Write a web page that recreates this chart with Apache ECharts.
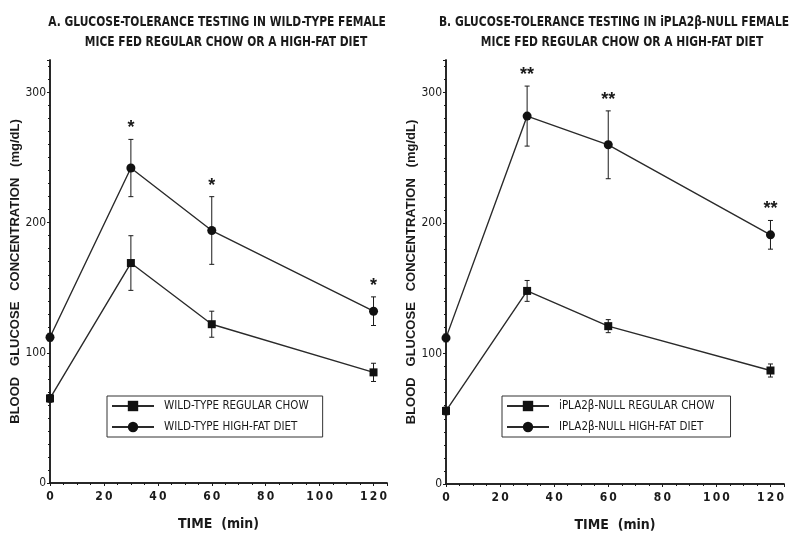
<!DOCTYPE html>
<html>
<head>
<meta charset="utf-8">
<script src="https://cdn.jsdelivr.net/npm/echarts@6/dist/echarts.min.js"></script>
<style>html,body{margin:0;padding:0;background:#fff}#c{width:800px;height:541px}</style>
</head>
<body>
<div id="c"></div>
<script>
// ---- data ----
const timeMin = [0, 30, 60, 120];
const wtChow = [65, 169, 122, 85];
const wtChowErr = [3, 21, 10, 7];
const wtFat = [112, 242, 194, 132];
const wtFatErr = [3, 22, 26, 11];
const wtSig = ['', '*', '*', '*'];
const koChow = [56, 148, 121, 87];
const koChowErr = [3, 8, 5, 5];
const koFat = [112, 282, 260, 191];
const koFatErr = [3, 23, 26, 11];
const koSig = ['', '**', '**', '**'];
const names = ['WILD-TYPE REGULAR CHOW', 'WILD-TYPE HIGH-FAT DIET', 'iPLA2β-NULL REGULAR CHOW', 'IPLA2β-NULL HIGH-FAT DIET'];
const titleA = ['A. GLUCOSE-TOLERANCE TESTING IN WILD-TYPE FEMALE', 'MICE FED REGULAR CHOW OR A HIGH-FAT DIET'];
const titleB = ['B. GLUCOSE-TOLERANCE TESTING IN iPLA2β-NULL FEMALE', 'MICE FED REGULAR CHOW OR A HIGH-FAT DIET'];
const yName = 'BLOOD   GLUCOSE   CONCENTRATION   (mg/dL)';
const xName = 'TIME  (min)';

const NARROW = "'Liberation Sans Narrow', 'DejaVu Sans Condensed', 'Arial Narrow', sans-serif";
const SANS = "'Liberation Sans', Arial, sans-serif";
const INK = '#1a1a1a';

const chart = echarts.init(document.getElementById('c'), null, {renderer: 'canvas'});

function xAx(grid, bottom) {
  return {
    type: 'value', gridIndex: grid, position: bottom ? 'bottom' : 'top',
    min: 0, max: 125, interval: 20,
    name: bottom ? xName : '', nameLocation: 'middle', nameGap: 34,
    nameTextStyle: {fontFamily: NARROW, fontWeight: 'bold', fontSize: 14, color: INK},
    axisLine: {show: true, lineStyle: {color: INK, width: 1.5}},
    axisTick: {show: true, length: 3, inside: !bottom, lineStyle: {color: INK}},
    minorTick: {show: true, splitNumber: 4, length: 2, lineStyle: {color: INK}},
    axisLabel: {show: bottom, showMaxLabel: false, margin: 8, fontFamily: NARROW, fontWeight: 'bold', fontSize: 12, color: INK,
      formatter: v => String(v).split('').join('\u2009')},
    splitLine: {show: false}
  };
}
function yAx(grid, left) {
  return {
    type: 'value', gridIndex: grid, position: left ? 'left' : 'right',
    min: 0, max: 325, interval: 100,
    name: left ? yName : '', nameLocation: 'middle', nameGap: 26, nameRotate: 90,
    nameTextStyle: {fontFamily: SANS, fontWeight: 'bold', fontSize: 13, color: INK},
    axisLine: {show: true, lineStyle: {color: INK, width: 1.5}},
    axisTick: {show: true, length: 3, inside: !left, lineStyle: {color: INK}},
    minorTick: {show: true, splitNumber: 10, length: 2, lineStyle: {color: INK}},
    axisLabel: {show: left, showMaxLabel: false, margin: 4, fontFamily: NARROW, fontSize: 12, color: INK},
    splitLine: {show: false}
  };
}

function lineSeries(name, xi, yi, vals, sym, size) {
  return {
    name, type: 'line', xAxisIndex: xi, yAxisIndex: yi, z: 5,
    data: timeMin.map((t, i) => [t, vals[i]]),
    symbol: sym, symbolSize: size, showSymbol: true,
    itemStyle: {color: '#111'},
    lineStyle: {color: '#2a2a2a', width: 1.4},
    emphasis: {disabled: true}, animation: false
  };
}
function errSeries(xi, yi, vals, errs, sig) {
  return {
    type: 'custom', xAxisIndex: xi, yAxisIndex: yi, z: 3, silent: true, animation: false,
    dimensions: ['x', 'm', 'e'], encode: {x: 0, y: 1},
    data: timeMin.map((t, i) => [t, vals[i], errs[i]]),
    renderItem(params, api) {
      const x = api.value(0), m = api.value(1), e = api.value(2);
      const top = api.coord([x, m + e]), bot = api.coord([x, m - e]);
      const cap = 2.5, st = {stroke: INK, lineWidth: 1};
      const ch = [
        {type: 'line', shape: {x1: top[0], y1: top[1], x2: bot[0], y2: bot[1]}, style: st},
        {type: 'line', shape: {x1: top[0] - cap, y1: top[1], x2: top[0] + cap, y2: top[1]}, style: st},
        {type: 'line', shape: {x1: bot[0] - cap, y1: bot[1], x2: bot[0] + cap, y2: bot[1]}, style: st}
      ];
      const s = sig ? sig[params.dataIndex] : '';
      if (s) ch.push({type: 'text', x: top[0], y: top[1] - 11,
        style: {text: s, align: 'center', verticalAlign: 'middle', font: "bold 18px " + SANS, fill: INK}});
      return {type: 'group', children: ch};
    }
  };
}

function legend(left, data, padR) {
  return {
    orient: 'vertical', left, top: 396, data,
    borderColor: '#333', borderWidth: 1, padding: [4, padR, 4, 4],
    itemWidth: 42, itemHeight: 13, itemGap: 9,
    textStyle: {fontFamily: NARROW, fontSize: 11.5, color: INK, padding: [0, 0, 0, 5]},
    selectedMode: false
  };
}
function titleText(txt, x, y) {
  return {type: 'text', x, y, scaleX: 0.85, silent: true,
    style: {text: txt, align: 'center', verticalAlign: 'middle', font: "bold 14px " + NARROW, fill: INK}};
}

const option = {
  backgroundColor: '#fff',
  animation: false,
  graphic: [
    titleText(titleA[0], 217, 22),
    titleText(titleA[1], 226, 42),
    titleText(titleB[0], 614, 22),
    titleText(titleB[1], 622, 42)
  ],
  grid: [
    {left: 50, top: 60, width: 337, height: 423},
    {left: 446, top: 60, width: 338, height: 424}
  ],
  xAxis: [xAx(0, true), xAx(0, false), xAx(1, true), xAx(1, false)],
  yAxis: [yAx(0, true), yAx(0, false), yAx(1, true), yAx(1, false)],
  legend: [legend(107, names.slice(0, 2), 14), legend(502, names.slice(2, 4), 16)],
  series: [
    errSeries(0, 0, wtChow, wtChowErr, null),
    errSeries(0, 0, wtFat, wtFatErr, wtSig),
    lineSeries(names[0], 0, 0, wtChow, 'rect', 8),
    lineSeries(names[1], 0, 0, wtFat, 'circle', 9),
    errSeries(2, 2, koChow, koChowErr, null),
    errSeries(2, 2, koFat, koFatErr, koSig),
    lineSeries(names[2], 2, 2, koChow, 'rect', 8),
    lineSeries(names[3], 2, 2, koFat, 'circle', 9)
  ]
};
chart.setOption(option);
</script>
</body>
</html>
